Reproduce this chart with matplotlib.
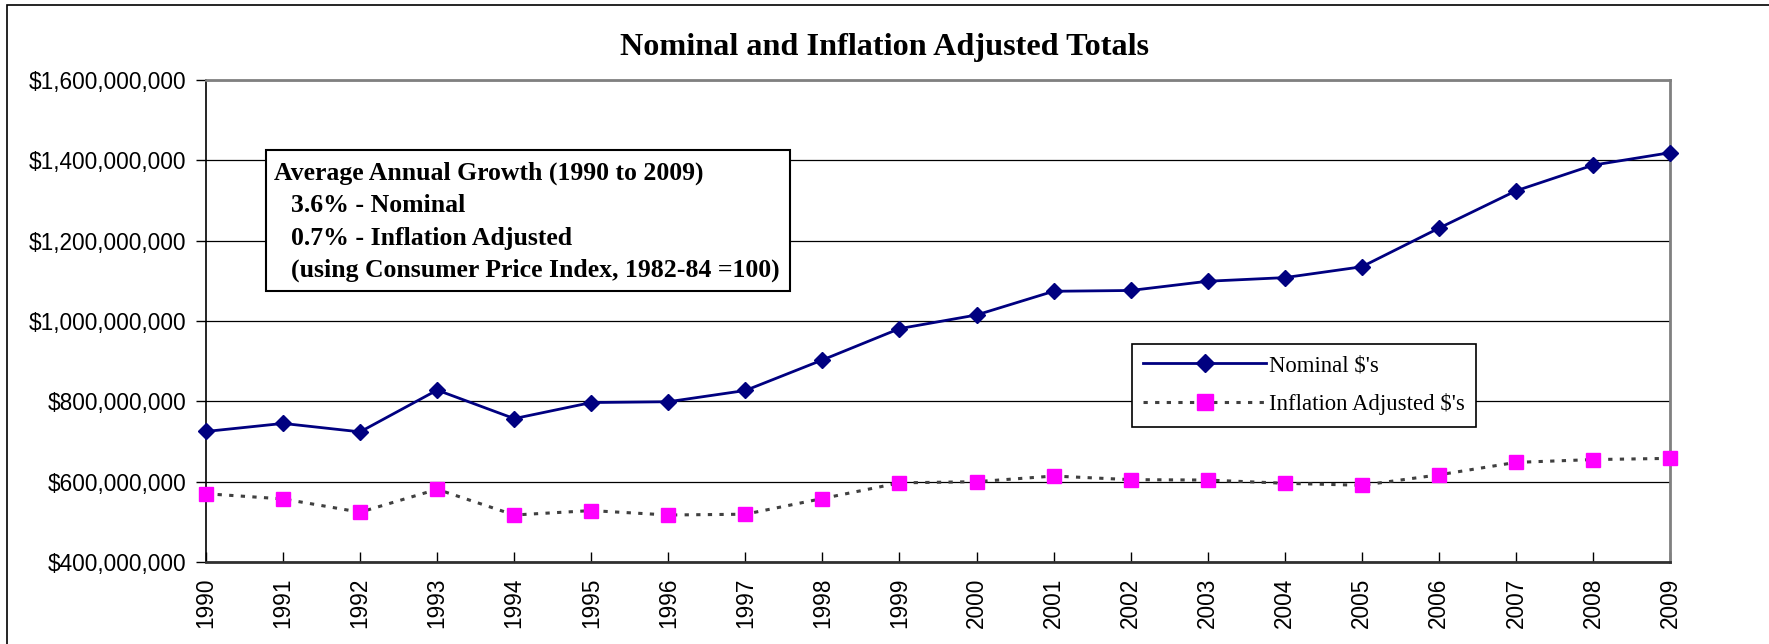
import matplotlib
matplotlib.use("Agg")
import matplotlib.pyplot as plt
from matplotlib.patches import Rectangle
from matplotlib.ticker import FuncFormatter

years = [str(y) for y in range(1990, 2010)]
nominal = [725e6, 745e6, 724e6, 828e6, 757e6, 797e6, 799e6, 827e6, 903e6, 981e6,
           1015e6, 1074e6, 1076e6, 1099e6, 1108e6, 1135e6, 1231e6, 1324e6, 1388e6, 1419e6]
inflation = [570e6, 557e6, 524e6, 581e6, 517e6, 528e6, 517e6, 519e6, 558e6, 597e6,
             600e6, 614e6, 605e6, 604e6, 596e6, 591e6, 617e6, 648e6, 655e6, 658e6]
yticks = [400e6, 600e6, 800e6, 1000e6, 1200e6, 1400e6, 1600e6]
title = "Nominal and Inflation Adjusted Totals"
note_lines = ["Average Annual Growth (1990 to 2009)",
              "3.6% - Nominal",
              "0.7% - Inflation Adjusted",
              "(using Consumer Price Index, 1982-84 =100)"]
series_names = ["Nominal $'s", "Inflation Adjusted $'s"]

W, H = 1769, 644
fig = plt.figure(figsize=(W / 100, H / 100), dpi=100)
fig.patch.set_facecolor("white")

# outer chart border (extends past right/bottom edges)
fig.add_artist(Rectangle((7 / W, -0.1), 1.2, 1 - 5 / H + 0.1, transform=fig.transFigure,
                         fill=False, edgecolor="black", linewidth=1.2))

L, R, T, B = 206, 1670, 80, 562
ax = fig.add_axes([L / W, 1 - B / H, (R - L) / W, (B - T) / H])
x = list(range(len(years)))

ax.plot(x, nominal, color="#000080", lw=2.0, marker="D", markersize=8.5,
        markerfacecolor="#000080", markeredgecolor="#000080", clip_on=False, zorder=4,
        label=series_names[0])
ax.plot(x, inflation, color="#404040", lw=2.2, linestyle=(0, (1.4, 2.4)), marker="s",
        markersize=10, markerfacecolor="#FF00FF", markeredgecolor="#FF00FF",
        clip_on=False, zorder=3, label=series_names[1])

ax.set_xlim(0, len(years) - 1)
ax.set_ylim(yticks[0], yticks[-1])
ax.set_yticks(yticks)
ax.yaxis.set_major_formatter(FuncFormatter(lambda v, p: "${:,.0f}".format(v)))
ax.set_xticks(x)
ax.set_xticklabels(years, rotation=90)
ax.grid(axis="y", color="black", lw=0.9)
ax.set_axisbelow(True)

for lbl in ax.get_yticklabels() + ax.get_xticklabels():
    lbl.set_fontfamily("Liberation Sans")
    lbl.set_fontsize(16.3)
ax.tick_params(axis="y", direction="out", length=7, width=1, pad=7)
ax.tick_params(axis="x", direction="in", length=7, width=1, pad=11)

ax.spines["left"].set_color("black")
ax.spines["left"].set_linewidth(1.2)
ax.spines["bottom"].set_color("#303030")
ax.spines["bottom"].set_linewidth(2)
for s in ("top", "right"):
    ax.spines[s].set_color("#808080")
    ax.spines[s].set_linewidth(2)

fig.text(0.5, 1 - 47 / H, title, ha="center", va="center",
         fontfamily="Liberation Serif", fontweight="bold", fontsize=23.2)

# note box
bx0, by0, bx1, by1 = 266, 150, 790, 291
fig.add_artist(Rectangle((bx0 / W, 1 - by1 / H), (bx1 - bx0) / W, (by1 - by0) / H,
                         transform=fig.transFigure, facecolor="white",
                         edgecolor="black", linewidth=1.5, zorder=5))
ys = [173, 206, 238, 270]
xs = [274, 291, 291, 291]
for t, xx, yy in zip(note_lines, xs, ys):
    fig.text(xx / W, 1 - yy / H, t, ha="left", va="center", fontfamily="Liberation Serif",
             fontweight="bold", fontsize=18.5, zorder=6)

leg = ax.legend(loc="upper left", bbox_to_anchor=(1132 / W, 1 - 344 / H),
                bbox_transform=fig.transFigure, frameon=True, fancybox=False,
                prop={"family": "Liberation Serif", "size": 16.4}, handlelength=5.4,
                handletextpad=0.1, borderpad=0.5, labelspacing=0.75, borderaxespad=0,
                markerscale=1.1)
leg.get_frame().set_edgecolor("black")
leg.get_frame().set_linewidth(1.2)
leg.get_frame().set_alpha(1)

fig.savefig("out.png", dpi=100, facecolor="white")
